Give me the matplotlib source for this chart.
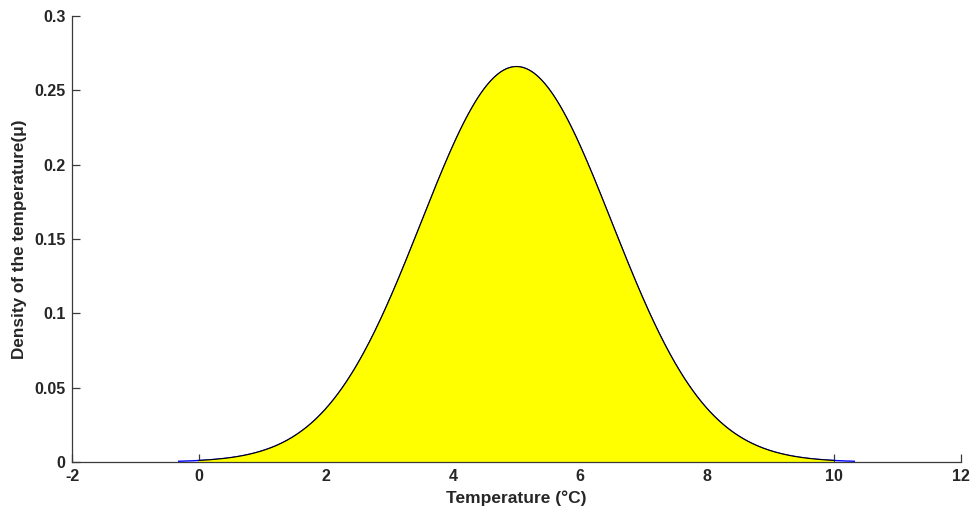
import numpy as np
import matplotlib
matplotlib.use("Agg")
import matplotlib.pyplot as plt

# Normal density of the temperature
mean_temp = 5.0
sd_temp = 1.5
curve_range = [-0.32, 10.32]   # full density line (blue)
fill_range = [0.0, 10.0]       # shaded interval (yellow)

x_ticks = [-2, 0, 2, 4, 6, 8, 10, 12]
y_ticks = [0, 0.05, 0.1, 0.15, 0.2, 0.25, 0.3]
y_tick_labels = ["0", "0.05", "0.1", "0.15", "0.2", "0.25", "0.3"]


def density(x):
    return np.exp(-0.5 * ((x - mean_temp) / sd_temp) ** 2) / (sd_temp * np.sqrt(2 * np.pi))


plt.rcParams["font.family"] = ["Liberation Sans", "DejaVu Sans"]
axis_color = "#3a3a3a"

fig = plt.figure(figsize=(9.79, 5.15), dpi=100)
ax = fig.add_axes([72 / 979, 53 / 515, 889 / 979, 446 / 515])

xc = np.linspace(curve_range[0], curve_range[1], 600)
ax.plot(xc, density(xc), color="#0000ff", lw=1.0, zorder=2)

xf = np.linspace(fill_range[0], fill_range[1], 600)
ax.fill_between(xf, 0, density(xf), facecolor="#ffff00", edgecolor="none", zorder=3)
ax.plot(xf, density(xf), color="black", lw=0.8, zorder=4)

ax.set_xlim(-2, 12)
ax.set_ylim(0, 0.3)
ax.set_xticks(x_ticks)
ax.set_xticklabels([str(t) for t in x_ticks])
ax.set_yticks(y_ticks)
ax.set_yticklabels(y_tick_labels)

for side in ("top", "right"):
    ax.spines[side].set_visible(False)
for side in ("left", "bottom"):
    ax.spines[side].set_color(axis_color)
    ax.spines[side].set_linewidth(0.9)
    ax.spines[side].set_zorder(5)

ax.tick_params(direction="in", length=6, width=0.9, colors=axis_color,
               labelsize=11.5)
ax.tick_params(axis="y", pad=4.5)
ax.tick_params(axis="x", pad=5)
for lab in ax.get_xticklabels() + ax.get_yticklabels():
    lab.set_fontweight("bold")
    lab.set_color("#262626")

ax.set_xlabel("Temperature (°C)", fontsize=12.5, fontweight="bold", color="#262626", labelpad=5)
ax.set_ylabel("Density of the temperature(μ)", fontsize=12.3, fontweight="bold", color="#262626", labelpad=5.5)

fig.savefig("out.png", dpi=100)
